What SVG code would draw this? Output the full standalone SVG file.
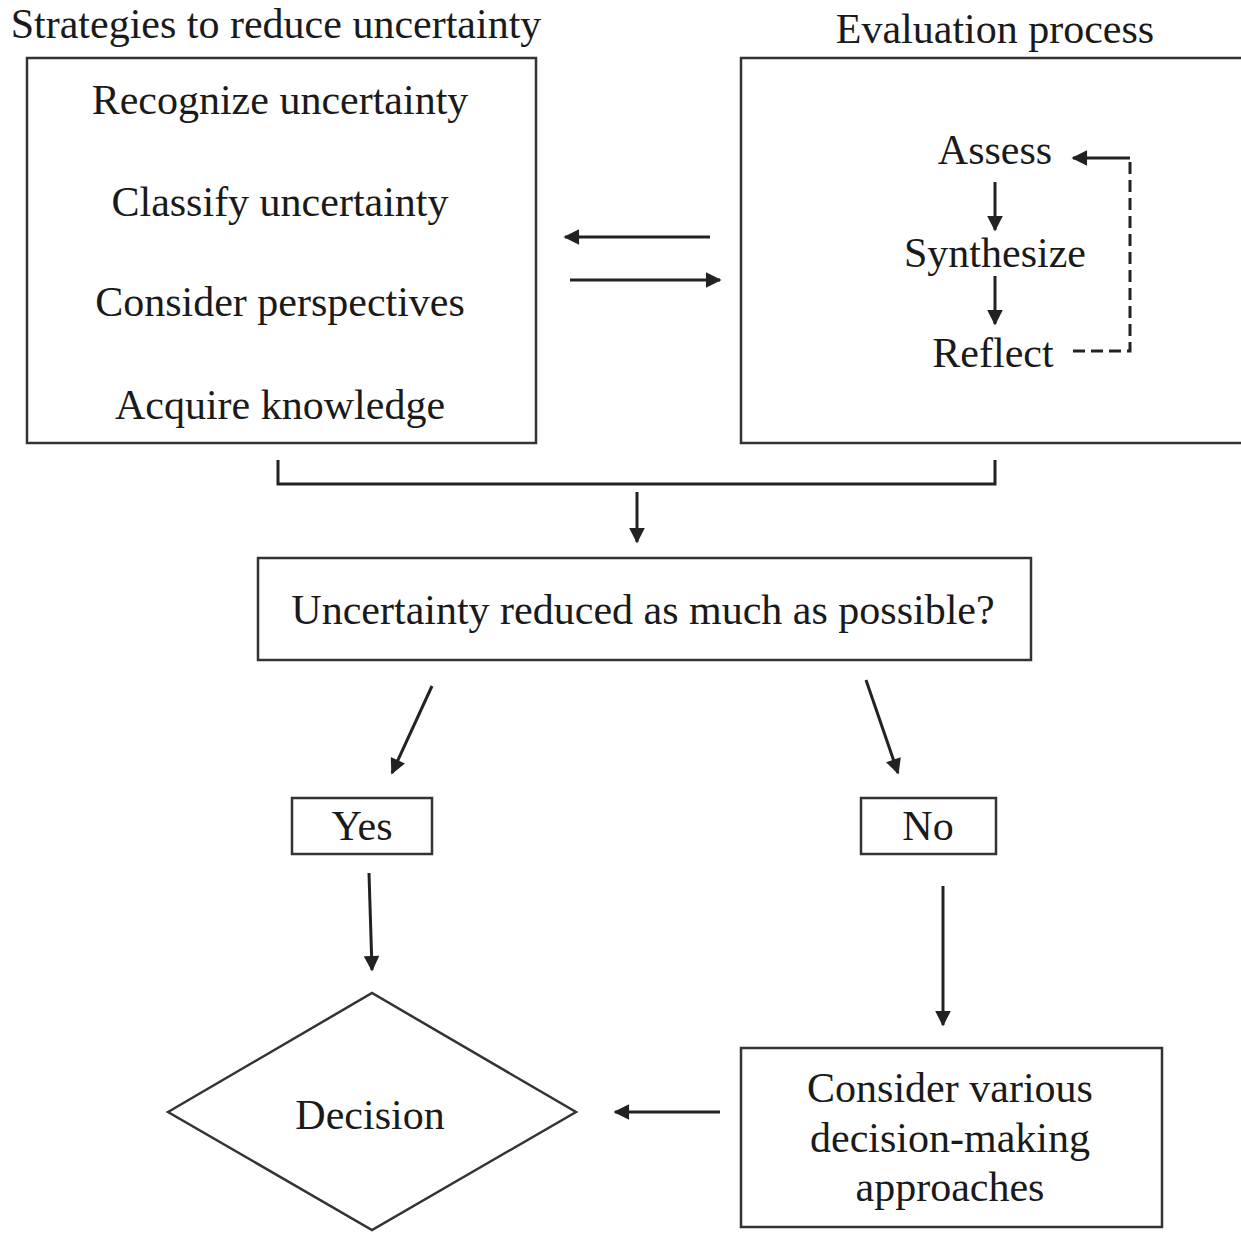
<svg xmlns="http://www.w3.org/2000/svg" width="1241" height="1233" viewBox="0 0 1241 1233">
<style>
text{font-family:"Liberation Serif","Times New Roman",serif;font-size:42px;fill:#1a1a1a;text-anchor:middle}
.box{fill:none;stroke:#333;stroke-width:2.5}
.ln{fill:none;stroke:#222;stroke-width:3}
.dash{fill:none;stroke:#222;stroke-width:3;stroke-dasharray:12 6}
</style>
<defs>
<marker id="ah" viewBox="0 0 10 10" refX="9" refY="5" markerWidth="6.5" markerHeight="5.2" markerUnits="strokeWidth" orient="auto">
<path d="M0,0 L10,5 L0,10 z" fill="#222"/>
</marker>
</defs>
<rect width="1241" height="1233" fill="#fff"/>
<g id="title-left"><text x="276" y="38">Strategies to reduce uncertainty</text></g>
<g id="title-right"><text x="995" y="43">Evaluation process</text></g>
<g id="strategies">
<rect class="box" x="27" y="58" width="509" height="385"/>
<text x="280" y="114">Recognize uncertainty</text>
<text x="280" y="216">Classify uncertainty</text>
<text x="280" y="316">Consider perspectives</text>
<text x="280" y="419">Acquire knowledge</text>
</g>
<g id="evaluation">
<rect class="box" x="741" y="58" width="520" height="385"/>
<text x="995" y="164">Assess</text>
<text x="995" y="267">Synthesize</text>
<text x="993" y="367">Reflect</text>
</g>
<g id="question">
<rect class="box" x="258" y="558" width="773" height="102"/>
<text x="643" y="624">Uncertainty reduced as much as possible?</text>
</g>
<g id="yes">
<rect class="box" x="292" y="798" width="140" height="56"/>
<text x="362" y="840">Yes</text>
</g>
<g id="no">
<rect class="box" x="861" y="798" width="135" height="56"/>
<text x="928" y="840">No</text>
</g>
<g id="decision">
<polygon class="box" points="168,1112 372,993 576,1112 372,1230"/>
<text x="370" y="1129">Decision</text>
</g>
<g id="approaches">
<rect class="box" x="741" y="1048" width="421" height="179"/>
<text x="950" y="1102">Consider various</text>
<text x="950" y="1152">decision-making</text>
<text x="950" y="1201">approaches</text>
</g>
<g id="connectors">
<line class="ln" x1="995" y1="182" x2="995" y2="230" marker-end="url(#ah)"/>
<line class="ln" x1="995" y1="276" x2="995" y2="324" marker-end="url(#ah)"/>
<path class="dash" d="M1073,351 H1130 V158"/>
<path class="ln" d="M1130,158 H1073" marker-end="url(#ah)"/>
<line class="ln" x1="710" y1="237" x2="565" y2="237" marker-end="url(#ah)"/>
<line class="ln" x1="570" y1="280" x2="720" y2="280" marker-end="url(#ah)"/>
<path class="ln" d="M278,460 V484 H995 V460"/>
<line class="ln" x1="637" y1="492" x2="637" y2="542" marker-end="url(#ah)"/>
<line class="ln" x1="432" y1="686" x2="392" y2="773" marker-end="url(#ah)"/>
<line class="ln" x1="866" y1="680" x2="898" y2="773" marker-end="url(#ah)"/>
<line class="ln" x1="369" y1="873" x2="372" y2="970" marker-end="url(#ah)"/>
<line class="ln" x1="943" y1="886" x2="943" y2="1025" marker-end="url(#ah)"/>
<line class="ln" x1="720" y1="1112" x2="615" y2="1112" marker-end="url(#ah)"/>
</g>
</svg>
